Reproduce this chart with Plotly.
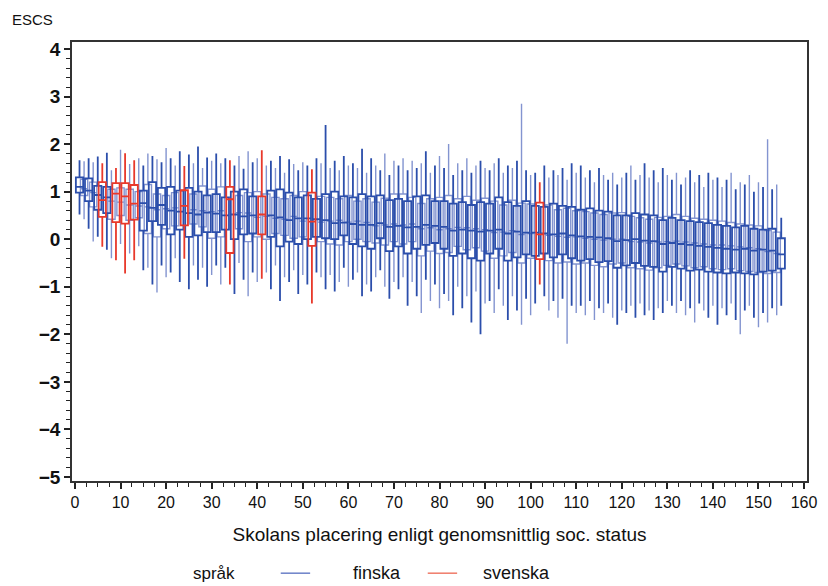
import plotly.graph_objects as go

# School rank (1..155) along the x axis
schools = list(range(1, 156))

# Teaching language of each school; the rest are Finnish-speaking
svenska_schools = [6, 9, 11, 13, 24, 34, 41, 52, 102]

# ESCS distribution per school: median, quartiles and whisker ends
median = [
    1.10, 1.06, 1.02, 0.98, 0.93, 0.82, 0.88, 0.80, 0.96, 0.78,
    0.90, 0.72, 0.75, 0.70, 0.76, 0.68, 0.66, 0.62, 0.72, 0.64,
    0.60, 0.66, 0.58, 0.70, 0.55, 0.62, 0.52, 0.60, 0.56, 0.58,
    0.54, 0.60, 0.50, 0.84, 0.52, 0.56, 0.48, 0.55, 0.50, 0.46,
    0.52, 0.48, 0.50, 0.44, 0.46, 0.42, 0.40, 0.48, 0.44, 0.38,
    0.44, 0.37, 0.42, 0.36, 0.40, 0.38, 0.34, 0.40, 0.35, 0.36,
    0.32, 0.38, 0.30, 0.35, 0.30, 0.28, 0.34, 0.30, 0.26, 0.32,
    0.28, 0.30, 0.25, 0.32, 0.26, 0.22, 0.30, 0.24, 0.28, 0.20,
    0.26, 0.22, 0.18, 0.25, 0.20, 0.24, 0.18, 0.22, 0.16, 0.20,
    0.18, 0.14, 0.20, 0.15, 0.12, 0.18, 0.16, 0.10, 0.14, 0.12,
    0.14, 0.10, 0.12, 0.08, 0.10, 0.06, 0.12, 0.04, 0.08, 0.05,
    0.06, 0.02, 0.05, 0.00, 0.04, -0.02, 0.02, 0.00, -0.04, 0.00,
    -0.02, -0.05, 0.00, -0.06, -0.03, -0.08, -0.04, -0.06, -0.10, -0.05,
    -0.08, -0.04, -0.10, -0.06, -0.12, -0.08, -0.14, -0.10, -0.16, -0.12,
    -0.18, -0.12, -0.20, -0.14, -0.22, -0.16, -0.20, -0.18, -0.24, -0.20,
    -0.22, -0.26, -0.24, -0.30, -0.32,
]
q1 = [
    0.98, 0.92, 0.80, 0.68, 0.62, 0.47, 0.55, 0.42, 0.36, 0.50,
    0.33, 0.40, 0.41, 0.45, 0.18, 0.12, 0.38, 0.05, 0.30, 0.22,
    0.10, 0.28, 0.20, 0.29, 0.05, 0.32, 0.08, 0.26, 0.15, 0.02,
    0.15, 0.05, 0.20, -0.29, 0.00, 0.22, 0.10, -0.05, 0.12, 0.05,
    0.10, 0.00, 0.05, 0.12, -0.15, 0.08, -0.05, 0.02, -0.10, 0.05,
    0.00, -0.14, 0.05, -0.05, 0.02, -0.10, 0.00, -0.12, 0.08, -0.05,
    -0.10, 0.00, -0.15, -0.05, -0.20, -0.08, 0.02, -0.12, -0.25, -0.05,
    -0.15, -0.10, -0.30, -0.05, -0.20, -0.35, -0.12, -0.25, -0.08, -0.30,
    -0.20, -0.28, -0.35, -0.15, -0.30, -0.22, -0.40, -0.18, -0.45, -0.25,
    -0.30, -0.40, -0.20, -0.35, -0.45, -0.28, -0.38, -0.50, -0.32, -0.40,
    -0.35, -0.42, -0.30, -0.45, -0.38, -0.50, -0.32, -0.48, -0.40, -0.52,
    -0.45, -0.50, -0.42, -0.55, -0.48, -0.58, -0.46, -0.52, -0.60, -0.50,
    -0.55, -0.60, -0.50, -0.62, -0.56, -0.65, -0.58, -0.60, -0.68, -0.55,
    -0.58, -0.52, -0.62, -0.56, -0.66, -0.60, -0.64, -0.58, -0.68, -0.62,
    -0.70, -0.64, -0.72, -0.62, -0.70, -0.66, -0.72, -0.68, -0.74, -0.70,
    -0.68, -0.72, -0.66, -0.70, -0.62,
]
q3 = [
    1.30, 1.26, 1.28, 1.20, 1.12, 1.20, 1.10, 1.05, 1.18, 1.08,
    1.18, 1.05, 1.14, 1.00, 1.02, 1.15, 1.20, 0.95, 1.08, 0.92,
    1.10, 0.98, 1.02, 1.03, 1.08, 0.95, 1.00, 1.12, 0.92, 1.05,
    0.95, 1.10, 0.88, 1.10, 1.00, 0.92, 1.05, 0.98, 0.90, 1.00,
    0.90, 0.95, 1.02, 0.88, 1.05, 0.85, 0.98, 0.92, 0.88, 1.00,
    0.92, 0.98, 0.85, 0.90, 0.95, 0.88, 1.00, 0.85, 0.90, 0.92,
    0.88, 0.80, 0.95, 0.85, 0.90, 0.78, 0.92, 0.86, 0.82, 0.95,
    0.85, 0.95, 0.80, 0.88, 0.90, 0.75, 0.92, 0.85, 0.80, 0.88,
    0.80, 0.92, 0.75, 0.85, 0.78, 0.90, 0.72, 0.82, 0.78, 0.86,
    0.75, 0.80, 0.88, 0.72, 0.78, 0.82, 0.70, 0.76, 0.80, 0.74,
    0.70, 0.77, 0.68, 0.72, 0.75, 0.62, 0.70, 0.65, 0.68, 0.60,
    0.62, 0.58, 0.65, 0.55, 0.60, 0.52, 0.58, 0.55, 0.50, 0.56,
    0.50, 0.48, 0.55, 0.45, 0.52, 0.42, 0.50, 0.46, 0.40, 0.48,
    0.45, 0.52, 0.40, 0.48, 0.38, 0.44, 0.36, 0.42, 0.34, 0.40,
    0.30, 0.38, 0.28, 0.35, 0.25, 0.32, 0.28, 0.30, 0.22, 0.28,
    0.20, 0.18, 0.22, 0.15, 0.02,
]
whisker_low = [
    0.52, 0.42, 0.22, -0.05, 0.05, -0.16, -0.22, -0.40, -0.44, -0.10,
    -0.72, -0.30, -0.44, -0.15, -0.65, -0.60, -0.95, -1.12, -0.55, -0.80,
    -0.70, -0.40, -0.90, -0.41, -1.05, -0.55, -0.85, -0.60, -1.00, -0.75,
    -0.55, -0.95, -0.60, -0.95, -1.15, -0.50, -0.85, -1.20, -0.70, -0.90,
    -0.83, -0.70, -1.05, -0.55, -1.30, -0.80, -0.90, -0.65, -1.15, -0.75,
    -0.95, -1.35, -0.70, -0.80, -1.05, -0.75, -1.10, -0.90, -0.60, -1.00,
    -0.85, -0.70, -1.20, -0.95, -1.10, -0.80, -0.65, -1.00, -1.25, -0.90,
    -1.05, -0.80, -1.40, -0.90, -1.20, -1.55, -0.85, -1.30, -0.95, -1.45,
    -1.15, -1.30, -1.60, -1.00, -1.45, -1.20, -1.75, -1.10, -2.00, -1.35,
    -1.30, -1.55, -1.05, -1.40, -1.70, -1.20, -1.50, -1.80, -1.25, -1.60,
    -1.35, -0.95, -1.20, -1.50, -1.30, -1.65, -1.25, -2.20, -1.40, -1.55,
    -1.40, -1.60, -1.30, -1.70, -1.45, -1.55, -1.35, -1.65, -1.80, -1.50,
    -1.55, -1.40, -1.65, -1.35, -1.60, -1.50, -1.70, -1.45, -1.55, -1.30,
    -1.40, -1.55, -1.30, -1.60, -1.45, -1.75, -1.35, -1.50, -1.65, -1.40,
    -1.80, -1.45, -1.60, -1.35, -1.70, -2.00, -1.50, -1.40, -1.65, -1.85,
    -1.55, -1.75, -1.45, -1.60, -1.40,
]
whisker_high = [
    1.66, 1.64, 1.70, 1.62, 1.74, 1.60, 1.82, 1.45, 1.50, 1.88,
    1.81, 1.58, 1.66, 1.70, 1.55, 1.80, 1.75, 1.68, 1.62, 1.92,
    1.70, 1.55, 1.85, 1.54, 1.78, 1.60, 1.95, 1.50, 1.72, 1.65,
    1.80, 1.60, 1.70, 1.66, 1.55, 1.75, 1.48, 1.85, 1.62, 1.70,
    1.87, 1.55, 1.65, 1.50, 1.75, 1.40, 1.68, 1.58, 1.45, 1.62,
    1.55, 1.47, 1.70, 1.60, 2.40, 1.50, 1.65, 1.45, 1.75, 1.55,
    1.60, 1.50, 1.90, 1.40, 1.70, 1.55, 1.45, 1.80, 1.35, 1.65,
    1.55, 1.70, 1.45, 1.65, 1.50, 1.60, 1.85, 1.40, 1.55, 1.75,
    1.50, 2.00, 1.35, 1.60, 1.45, 1.70, 1.40, 1.55, 1.65, 1.50,
    1.45, 1.60, 1.70, 1.40, 1.55, 1.50, 1.65, 2.85, 1.45, 1.35,
    1.40, 1.20, 1.55, 1.30, 1.45, 1.35, 1.50, 1.25, 1.60, 1.40,
    1.55, 1.30, 1.45, 1.20, 1.50, 1.35, 1.25, 1.40, 1.15, 1.30,
    1.40, 1.55, 1.25, 1.35, 1.60, 1.30, 1.45, 1.20, 1.50, 1.35,
    1.25, 1.40, 1.15, 1.30, 1.45, 1.20, 1.35, 1.10, 1.40, 1.25,
    1.30, 1.10, 1.25, 1.40, 1.05, 1.20, 1.15, 1.35, 1.00, 1.20,
    1.10, 2.10, 1.05, 1.15, 0.45,
]

# Axis tick values
x_ticks = list(range(0, 161, 10))
y_ticks = list(range(-5, 5))

BLUE_DARK = "#2b4eab"
BLUE_LIGHT = "#8394d0"
RED = "#e8392b"

FONT = "Liberation Sans"


def pick(idx, values):
    return [values[i] for i in idx]


fin_a = [i for i, s in enumerate(schools) if s not in svenska_schools and s % 2 == 1]
fin_b = [i for i, s in enumerate(schools) if s not in svenska_schools and s % 2 == 0]
sve = [i for i, s in enumerate(schools) if s in svenska_schools]

fig = go.Figure()
for idx, color, lw in [(fin_b, BLUE_LIGHT, 1.4), (fin_a, BLUE_DARK, 1.8), (sve, RED, 1.8)]:
    fig.add_trace(go.Box(
        x=pick(idx, schools),
        q1=pick(idx, q1),
        median=pick(idx, median),
        q3=pick(idx, q3),
        lowerfence=pick(idx, whisker_low),
        upperfence=pick(idx, whisker_high),
        width=1.6,
        whiskerwidth=0,
        boxpoints=False,
        line=dict(color=color, width=lw),
        fillcolor="rgba(0,0,0,0)",
        showlegend=False,
        hoverinfo="skip",
    ))

axis_common = dict(
    showline=True, linecolor="#333333", linewidth=1.5, mirror=True,
    ticks="outside", tickcolor="#222222", tickwidth=1.5, ticklen=6,
    showgrid=False, zeroline=False,
)

fig.update_xaxes(
    range=[-0.65, 160.65], tickvals=x_ticks,
    tickfont=dict(family=FONT, size=16, color="#111111"),
    minor=dict(dtick=2.5, tick0=0, ticks="outside", ticklen=4, tickcolor="#222222", tickwidth=1.2),
    title=dict(text="Skolans placering enligt genomsnittlig soc. status",
               font=dict(family=FONT, size=19, color="#111111"), standoff=18),
    **axis_common,
)
fig.update_yaxes(
    range=[-5.084, 4.147], tickvals=y_ticks,
    tickfont=dict(family=FONT, size=19, color="#111111", weight="bold"),
    minor=dict(dtick=0.2, tick0=0, ticks="outside", ticklen=4, tickcolor="#222222", tickwidth=1.2),
    **axis_common,
)

fig.add_annotation(
    text="ESCS", xref="paper", yref="paper", x=-0.084, y=1.0, yshift=12,
    xanchor="left", yanchor="bottom", showarrow=False,
    font=dict(family=FONT, size=15, color="#111111"),
)

# Legend row: label, then a line sample before each language
legend_y = -0.21
fig.add_annotation(text="språk", xref="paper", yref="paper", x=0.162, y=legend_y,
                   xanchor="left", yanchor="middle", showarrow=False,
                   font=dict(family=FONT, size=17, color="#111111"))
for x0, x1, color, label, tx in [(0.284, 0.324, "#6b80c8", "finska", 0.379),
                                 (0.484, 0.524, "#ef7a68", "svenska", 0.557)]:
    fig.add_shape(type="line", xref="paper", yref="paper", x0=x0, x1=x1,
                  y0=legend_y, y1=legend_y, line=dict(color=color, width=1.5))
    fig.add_annotation(text=label, xref="paper", yref="paper", x=tx, y=legend_y,
                       xanchor="left", yanchor="middle", showarrow=False,
                       font=dict(family=FONT, size=18, color="#111111"))

fig.update_layout(
    width=828, height=586,
    margin=dict(l=72, r=11, t=42, b=105),
    paper_bgcolor="white", plot_bgcolor="white",
    boxmode="overlay",
)

fig.write_html("out.html")
